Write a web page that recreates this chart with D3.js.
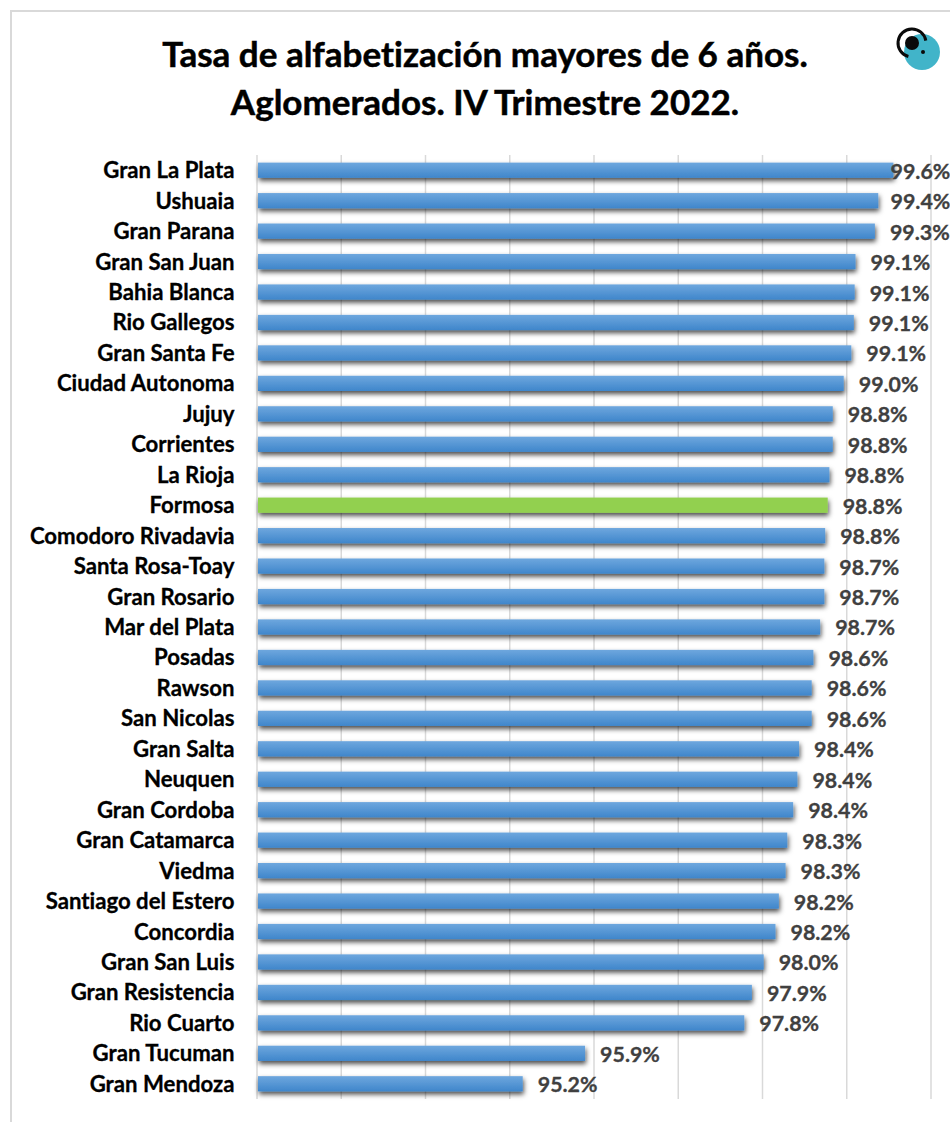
<!DOCTYPE html>
<html>
<head>
<meta charset="utf-8">
<script src="https://cdn.jsdelivr.net/npm/d3@7"></script>
<style>
  html, body { margin: 0; padding: 0; background: #fff; }
  svg { display: block; font-family: Lato, "Open Sans", sans-serif; font-weight: 700; font-variant-ligatures: none; }
  .title { font-size: 35px; fill: #000; text-anchor: middle; stroke: #000; stroke-width: 0.5; }
  .yaxis text { font-size: 22.2px; fill: #000; font-weight: 700; stroke: #000; stroke-width: 0.3; }
  .val { font-size: 21.4px; fill: #404040; stroke: #404040; stroke-width: 0.3; }
  .grid line { stroke: #d9d9d9; stroke-width: 1.5; }
</style>
</head>
<body>
<div id="chart"></div>
<script>
const categories = ["Gran La Plata", "Ushuaia", "Gran Parana", "Gran San Juan", "Bahia Blanca", "Rio Gallegos",
  "Gran Santa Fe", "Ciudad Autonoma", "Jujuy", "Corrientes", "La Rioja", "Formosa", "Comodoro Rivadavia",
  "Santa Rosa-Toay", "Gran Rosario", "Mar del Plata", "Posadas", "Rawson", "San Nicolas", "Gran Salta",
  "Neuquen", "Gran Cordoba", "Gran Catamarca", "Viedma", "Santiago del Estero", "Concordia", "Gran San Luis",
  "Gran Resistencia", "Rio Cuarto", "Gran Tucuman", "Gran Mendoza"];
const values = [99.56, 99.38, 99.34, 99.11, 99.10, 99.09, 99.06, 98.97, 98.84, 98.84, 98.80, 98.78, 98.75,
  98.74, 98.74, 98.69, 98.61, 98.59, 98.59, 98.44, 98.42, 98.37, 98.30, 98.28, 98.20, 98.16, 98.02,
  97.88, 97.79, 95.90, 95.16];
const gridTicks = [92, 93, 94, 95, 96, 97, 98, 99, 100];
const titleLines = ["Tasa de alfabetización mayores de 6 años.", "Aglomerados. IV Trimestre 2022."];
const highlight = "Formosa";

const width = 950, height = 1122;
const margin = {top: 155, left: 256.5, bottom: 23, right: 19.5};

const svg = d3.select("#chart").append("svg")
    .attr("width", width)
    .attr("height", height);

// gradient and shadow for the bars
const defs = svg.append("defs");
const grad = defs.append("linearGradient")
    .attr("id", "blue")
    .attr("x1", 0).attr("y1", 0).attr("x2", 0).attr("y2", 1);
grad.append("stop").attr("offset", "0%").attr("stop-color", "#6ea7de");
grad.append("stop").attr("offset", "100%").attr("stop-color", "#3f86cb");
const shadow = defs.append("filter")
    .attr("id", "shadow")
    .attr("x", "-5%").attr("y", "-60%").attr("width", "110%").attr("height", "260%");
shadow.append("feDropShadow")
    .attr("dx", 1).attr("dy", 3).attr("stdDeviation", 2.6)
    .attr("flood-color", "#000").attr("flood-opacity", 0.7);

// chart frame, only top and left are inside the picture
svg.append("path")
    .attr("d", `M${width},11H11V${height}`)
    .attr("fill", "none")
    .attr("stroke", "#d9d9d9")
    .attr("stroke-width", 2);

// scales
const x = d3.scaleLinear()
    .domain([92, 100])
    .range([margin.left, width - margin.right]);
const y = d3.scaleBand()
    .domain(categories)
    .range([margin.top, height - margin.bottom])
    .paddingInner(0.5)
    .paddingOuter(0.25);

// vertical grid
const grid = svg.append("g")
    .attr("class", "grid")
    .attr("transform", `translate(0,${height - margin.bottom})`)
    .call(d3.axisBottom(x).tickValues(gridTicks).tickFormat("").tickSizeOuter(0));
grid.select(".domain").remove();
grid.selectAll(".tick line").attr("y2", -(height - margin.bottom - margin.top));

// category labels
const yAxis = svg.append("g")
    .attr("class", "yaxis")
    .attr("transform", `translate(${margin.left - 22},0)`)
    .call(d3.axisLeft(y).tickSize(0).tickPadding(0));
yAxis.select(".domain").remove();
yAxis.selectAll("text").attr("dy", "0.36em").style("font-family", "Lato, sans-serif");

// bars, they start just right of the axis line
const data = categories.map((c, i) => ({name: c, value: values[i]}));
const barStart = x(92) + 1.5;
svg.append("g").selectAll("rect")
    .data(data)
    .enter()
    .append("rect")
    .attr("x", barStart)
    .attr("y", d => y(d.name))
    .attr("width", d => x(d.value) - barStart)
    .attr("height", y.bandwidth())
    .attr("fill", d => d.name === highlight ? "#92d050" : "url(#blue)")
    .attr("filter", "url(#shadow)");

// value labels, pushed back when they would run out of the picture
const labelMax = 890.5;
svg.append("g").selectAll("text")
    .data(data)
    .enter()
    .append("text")
    .attr("class", "val")
    .attr("x", d => Math.min(x(d.value) + 15, labelMax))
    .attr("y", d => y(d.name) + y.bandwidth() / 2 + 1)
    .attr("dy", "0.35em")
    .text(d => d3.format(".1f")(d.value) + "%");

// title
svg.selectAll(".title")
    .data(titleLines)
    .enter()
    .append("text")
    .attr("class", "title")
    .attr("x", 485)
    .attr("y", (d, i) => 67 + i * 48)
    .text(d => d);

// logo
const logo = svg.append("g");
logo.append("circle").attr("cx", 922).attr("cy", 52).attr("r", 18).attr("fill", "#41b4c9");
logo.append("path")
    .attr("transform", "translate(912,43)")
    .attr("d", d3.arc().innerRadius(12.5).outerRadius(15.5).startAngle(-2.88).endAngle(1.4)())
    .attr("fill", "#0a0a0a");
logo.append("circle").attr("cx", 912).attr("cy", 43).attr("r", 7).attr("fill", "#0a0a0a");
logo.append("circle").attr("cx", 923).attr("cy", 52).attr("r", 2).attr("fill", "#0a0a0a");
</script>
</body>
</html>
